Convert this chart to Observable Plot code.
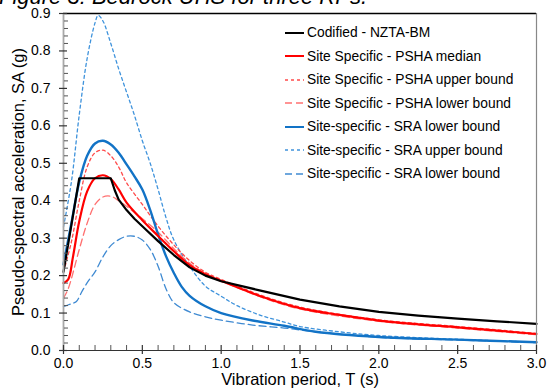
<!DOCTYPE html>
<html><head><meta charset="utf-8">
<script src="https://cdn.jsdelivr.net/npm/d3@7"></script>
<script src="https://cdn.jsdelivr.net/npm/@observablehq/plot@0.6"></script>
<style>
body{margin:0;background:#fff;font-family:"Liberation Sans",Arial,sans-serif;}
#wrap{position:relative;width:550px;height:390px;overflow:hidden;background:#fff;}
#chart{position:absolute;left:0;top:0;}
#title{position:absolute;left:-1px;top:-16px;font-style:italic;font-size:22px;white-space:nowrap;color:#000;}
#legend{position:absolute;left:285px;top:21px;font-size:13.8px;color:#000;}
.row{display:flex;align-items:center;height:23.5px;}
.row svg{margin-right:3px;}
</style></head><body>
<div id="wrap"><div id="chart"></div><div id="title">Figure 3: Bedrock UHS for three RPs.</div><div id="legend"></div></div>
<script>
// ---- data ----
const seriesNames = [
  "Codified - NZTA-BM",
  "Site Specific - PSHA median",
  "Site Specific - PSHA upper bound",
  "Site Specific - PSHA lower bound",
  "Site-specific - SRA lower bound",
  "Site-specific - SRA upper bound",
  "Site-specific - SRA lower bound"
];
const codifiedT  = [0, 0.1, 0.3, 0.325, 0.35, 0.4, 0.45, 0.5, 0.6, 0.7, 0.8, 0.9, 1.0, 1.25, 1.5, 1.75, 2.0, 2.25, 2.5, 2.75, 3.0];
const codifiedSA = [0.21, 0.46, 0.46, 0.428, 0.403, 0.375, 0.352, 0.332, 0.292, 0.255, 0.222, 0.2, 0.185, 0.16, 0.136, 0.118, 0.103, 0.093, 0.085, 0.078, 0.071];

const pshaMedT  = [0, 0.03, 0.06, 0.1, 0.15, 0.2, 0.25, 0.3, 0.35, 0.4, 0.5, 0.6, 0.7, 0.8, 0.9, 1.0, 1.25, 1.5, 1.75, 2.0, 2.25, 2.5, 2.75, 3.0];
const pshaMedSA = [0.18, 0.19, 0.25, 0.345, 0.425, 0.46, 0.468, 0.458, 0.43, 0.395, 0.348, 0.306, 0.265, 0.228, 0.204, 0.186, 0.145, 0.113, 0.095, 0.08, 0.07, 0.062, 0.053, 0.044];

const pshaUpT  = [0, 0.05, 0.1, 0.15, 0.2, 0.25, 0.3, 0.35, 0.4, 0.5, 0.6, 0.7, 0.8, 0.9, 1.0, 1.25, 1.5, 2.0, 2.5, 3.0];
const pshaUpSA = [0.21, 0.29, 0.4, 0.49, 0.528, 0.535, 0.52, 0.49, 0.448, 0.39, 0.332, 0.282, 0.24, 0.209, 0.19, 0.148, 0.116, 0.082, 0.064, 0.046];

const pshaLoT  = [0, 0.03, 0.1, 0.15, 0.2, 0.25, 0.3, 0.35, 0.4, 0.5, 0.6, 0.7, 0.8, 0.9, 1.0, 1.25, 1.5, 2.0, 2.5, 3.0];
const pshaLoSA = [0.14, 0.165, 0.27, 0.34, 0.39, 0.41, 0.412, 0.4, 0.385, 0.352, 0.316, 0.272, 0.233, 0.206, 0.186, 0.143, 0.111, 0.078, 0.06, 0.042];

const sraSolidT  = [0, 0.05, 0.1, 0.15, 0.2, 0.25, 0.3, 0.35, 0.4, 0.45, 0.5, 0.55, 0.6, 0.65, 0.7, 0.75, 0.8, 0.9, 1.0, 1.2, 1.4, 1.6, 2.0, 2.5, 3.0];
const sraSolidSA = [0.23, 0.34, 0.45, 0.52, 0.553, 0.56, 0.55, 0.528, 0.497, 0.465, 0.43, 0.375, 0.31, 0.252, 0.207, 0.17, 0.146, 0.118, 0.1, 0.08, 0.066, 0.05, 0.036, 0.029, 0.022];

const sraUpT  = [0, 0.05, 0.1, 0.15, 0.2, 0.22, 0.25, 0.3, 0.35, 0.4, 0.45, 0.5, 0.55, 0.6, 0.65, 0.7, 0.8, 0.9, 1.0, 1.1, 1.25, 1.4, 1.5, 1.75, 2.0, 2.5, 3.0];
const sraUpSA = [0.33, 0.45, 0.63, 0.78, 0.875, 0.895, 0.88, 0.82, 0.752, 0.69, 0.628, 0.56, 0.5, 0.43, 0.355, 0.295, 0.225, 0.172, 0.145, 0.12, 0.094, 0.076, 0.064, 0.05, 0.04, 0.03, 0.022];

const sraLoT  = [0, 0.05, 0.08, 0.12, 0.16, 0.2, 0.25, 0.3, 0.35, 0.4, 0.45, 0.5, 0.55, 0.6, 0.65, 0.7, 0.8, 0.9, 1.0, 1.2, 1.4, 1.6, 2.0, 2.5, 3.0];
const sraLoSA = [0.117, 0.125, 0.13, 0.16, 0.187, 0.21, 0.25, 0.28, 0.296, 0.305, 0.305, 0.295, 0.27, 0.225, 0.165, 0.128, 0.103, 0.09, 0.081, 0.068, 0.06, 0.05, 0.035, 0.028, 0.021];

const xMajor = [0, 0.5, 1.0, 1.5, 2.0, 2.5, 3.0];
const yMajor = [0, 0.1, 0.2, 0.3, 0.4, 0.5, 0.6, 0.7, 0.8, 0.9];
const xTitle = "Vibration period, T (s)";
const yTitle = "Pseudo-spectral acceleration, SA (g)";

// ---- styles ----
const styles = [
  {stroke: "#000000", width: 2.2, dash: null, curve: "linear"},
  {stroke: "#ff0000", width: 2.2, dash: null, curve: "catmull-rom"},
  {stroke: "#ff4a4a", width: 1.3, dash: "3,3", curve: "catmull-rom"},
  {stroke: "#ff7070", width: 1.3, dash: "7,4", curve: "catmull-rom"},
  {stroke: "#1273c6", width: 2.4, dash: null, curve: "catmull-rom"},
  {stroke: "#3f93dc", width: 1.3, dash: "3,3", curve: "catmull-rom"},
  {stroke: "#3f8ad2", width: 1.3, dash: "7,4", curve: "catmull-rom"}
];
const seriesT  = [codifiedT, pshaMedT, pshaUpT, pshaLoT, sraSolidT, sraUpT, sraLoT];
const seriesSA = [codifiedSA, pshaMedSA, pshaUpSA, pshaLoSA, sraSolidSA, sraUpSA, sraLoSA];
const series = seriesNames.map((name, i) => ({name, style: styles[i], pts: seriesT[i].map((t, j) => ({T: t, SA: seriesSA[i][j]}))}));

const W = 550, H = 390, mL = 63, mR = 14, mT = 13, mB = 40;
const innerW = W - mL - mR, innerH = H - mT - mB;
const xMinor = d3.range(1, 31).map(i => i / 10).filter(v => Math.abs(v * 2 - Math.round(v * 2)) > 1e-6);
const yMinor = d3.range(1, 45).map(i => i / 50).filter(v => Math.abs(v * 10 - Math.round(v * 10)) > 1e-6);

const drawOrder = [6, 5, 3, 2, 4, 1, 0];
const lineMarks = drawOrder.map(i => {
  const s = series[i];
  return Plot.line(s.pts, {x: "T", y: "SA", stroke: s.style.stroke, strokeWidth: s.style.width,
    strokeDasharray: s.style.dash, curve: s.style.curve});
});

const chart = Plot.plot({
  width: W, height: H,
  marginLeft: mL, marginRight: mR, marginTop: mT, marginBottom: mB,
  style: {fontFamily: "'Liberation Sans', Arial, sans-serif", background: "white", color: "#000", overflow: "visible"},
  x: {domain: [0, 3]},
  y: {domain: [0, 0.9]},
  marks: [
    ...lineMarks,
    Plot.ruleY([0.9], {stroke: "#000", strokeWidth: 1.3}),
    Plot.ruleX([3], {stroke: "#888", strokeWidth: 1.2}),
    Plot.ruleX([0], {stroke: "#a8a8a8", strokeWidth: 1.8}),
    Plot.ruleY([0], {stroke: "#333", strokeWidth: 1.2}),
    Plot.tickY(yMajor, {y: d => d, insetLeft: -4, insetRight: innerW - 4, stroke: "#333", strokeWidth: 1.2}),
    Plot.tickY(yMinor, {y: d => d, insetLeft: 1, insetRight: innerW - 5, stroke: "#555", strokeWidth: 1}),
    Plot.tickX(xMajor, {x: d => d, insetTop: innerH - 5, insetBottom: -4, stroke: "#333", strokeWidth: 1.2}),
    Plot.tickX(xMinor, {x: d => d, insetTop: innerH - 5, insetBottom: 0, stroke: "#555", strokeWidth: 1}),
    Plot.axisY(yMajor, {tickSize: 0, tickPadding: 13, tickFormat: d3.format(".1f"), fontSize: 14, label: null}),
    Plot.axisX(xMajor, {tickSize: 0, tickPadding: 8, tickFormat: d3.format(".1f"), fontSize: 14, label: null}),
    Plot.text([yTitle], {text: d => d, frameAnchor: "left", textAnchor: "middle", lineAnchor: "middle", rotate: -90, dx: -45, fontSize: 16.5}),
    Plot.text([xTitle], {text: d => d, frameAnchor: "bottom", textAnchor: "middle", lineAnchor: "middle", dy: 29, fontSize: 16.5})
  ]
});
document.getElementById("chart").appendChild(chart);

// ---- legend ----
const legend = document.getElementById("legend");
series.forEach(s => {
  const row = document.createElement("div");
  row.className = "row";
  const ns = "http://www.w3.org/2000/svg";
  const svg = document.createElementNS(ns, "svg");
  svg.setAttribute("width", 19); svg.setAttribute("height", 10);
  const ln = document.createElementNS(ns, "line");
  ln.setAttribute("x1", 0); ln.setAttribute("x2", 19); ln.setAttribute("y1", 5); ln.setAttribute("y2", 5);
  ln.setAttribute("stroke", s.style.stroke);
  ln.setAttribute("stroke-width", Math.min(s.style.width, 2));
  if (s.style.dash) ln.setAttribute("stroke-dasharray", s.style.dash);
  svg.appendChild(ln);
  const span = document.createElement("span");
  span.textContent = s.name;
  row.appendChild(svg); row.appendChild(span);
  legend.appendChild(row);
});
</script>
</body></html>
